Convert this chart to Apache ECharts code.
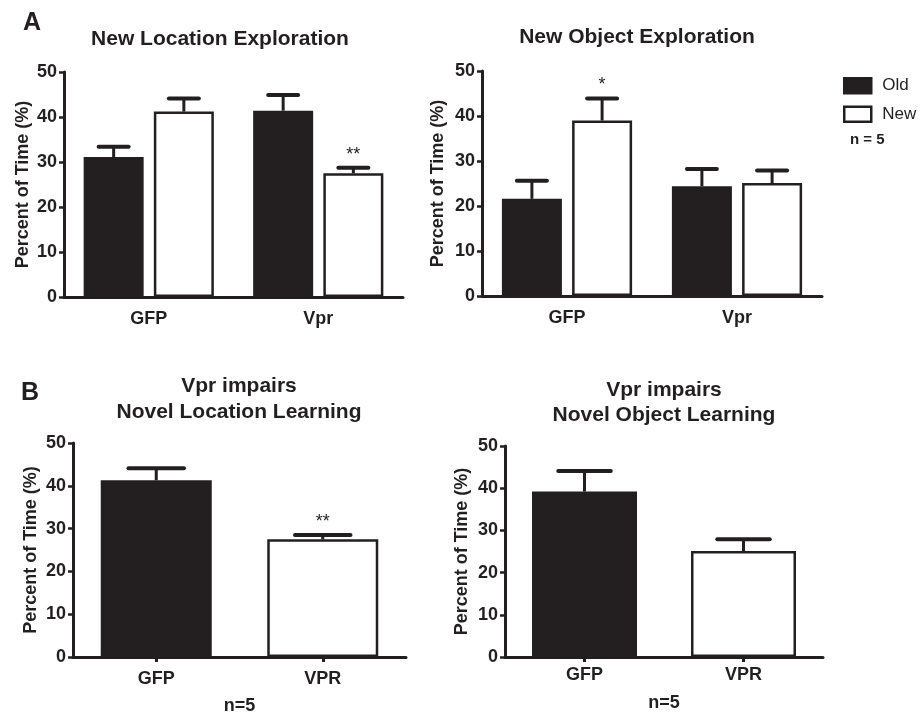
<!DOCTYPE html>
<html>
<head>
<meta charset="utf-8">
<script src="https://cdn.jsdelivr.net/npm/echarts@6/dist/echarts.min.js"></script>
<style>html,body{margin:0;padding:0;background:#fff}#c{width:921px;height:716px}</style>
</head>
<body>
<div id="c"></div>
<script>
// ---- data ----
const categoriesA = ['GFP', 'Vpr'];
const categoriesB = ['GFP', 'VPR'];
const seriesNames = ['Old', 'New'];

// Panel A left: New Location Exploration
const locOld = [31.1, 41.4];
const locOldErr = [2.3, 3.5];
const locNew = [41.2, 27.5];
const locNewErr = [2.9, 1.2];
const locNewSig = ['', '**'];

// Panel A right: New Object Exploration
const objOld = [21.6, 24.4];
const objOldErr = [4.0, 3.8];
const objNew = [39.0, 25.1];
const objNewErr = [4.9, 2.8];
const objNewSig = ['*', ''];

// Panel B left: Vpr impairs Novel Location Learning
const learnLoc = [41.3, 27.5];
const learnLocErr = [2.8, 1.0];
const learnLocSig = ['', '**'];

// Panel B right: Vpr impairs Novel Object Learning
const learnObj = [39.2, 25.1];
const learnObjErr = [4.9, 2.8];
const learnObjSig = ['', ''];

const yMin = 0, yMax = 50, yStep = 10;
const nLabelA = 'n = 5';
const nLabelB = 'n=5';

// ---- styling ----
const dark = '#231f20';
const FONT = '"Liberation Sans", Arial, Helvetica, sans-serif';
const bw = 60, gapFrac = 0.17;       // panel A bars
const bwBL = 111, bwBR = 105;        // panel B bars

const chart = echarts.init(document.getElementById('c'), null, {renderer: 'canvas'});

function errSeries(gridIdx, vals, errs, sigs, offset, barW) {
  return {
    type: 'custom',
    xAxisIndex: gridIdx, yAxisIndex: gridIdx,
    z: 5,
    silent: true,
    data: vals.map((v, i) => [i, v, errs[i]]),
    renderItem: function (params, api) {
      const i = api.value(0), v = api.value(1), e = api.value(2);
      const base = api.coord([i, v]);
      const cap = api.coord([i, v + e]);
      const x = base[0] + offset;
      const hw = barW / 4;
      const children = [
        {type: 'line', shape: {x1: x, y1: base[1], x2: x, y2: cap[1]}, style: {stroke: dark, lineWidth: 3}},
        {type: 'line', shape: {x1: x - hw, y1: cap[1], x2: x + hw, y2: cap[1]}, style: {stroke: dark, lineWidth: 4, lineCap: 'round'}}
      ];
      const s = sigs[params.dataIndex];
      if (s) {
        children.push({type: 'text', x: x, y: cap[1] - 13,
          style: {text: s, fill: dark, fontSize: 18, fontFamily: FONT, align: 'center', verticalAlign: 'middle'}});
      }
      return {type: 'group', children: children};
    }
  };
}

function yAxis(gridIdx, gap) {
  return {
    type: 'value', gridIndex: gridIdx, min: yMin, max: yMax, interval: yStep,
    name: 'Percent of Time (%)', nameLocation: 'middle', nameGap: gap,
    nameTextStyle: {fontSize: 18, fontWeight: 'bold', color: dark, fontFamily: FONT},
    axisLine: {show: true, lineStyle: {color: dark, width: 3}},
    axisTick: {show: true, length: 5, lineStyle: {color: dark, width: 2.5}},
    axisLabel: {fontSize: 18, fontWeight: 'bold', color: dark, fontFamily: FONT, margin: 7},
    splitLine: {show: false}
  };
}

function xAxis(gridIdx, cats, ticks, margin, name, nameGap) {
  return {
    type: 'category', gridIndex: gridIdx, data: cats,
    axisLine: {show: true, lineStyle: {color: dark, width: 3}},
    axisTick: {show: ticks, alignWithLabel: true, length: 5, lineStyle: {color: dark, width: 3}},
    axisLabel: {fontSize: 18, fontWeight: 'bold', color: dark, fontFamily: FONT, margin: margin},
    name: name || '', nameLocation: 'middle', nameGap: nameGap || 0,
    nameTextStyle: {fontSize: 18, fontWeight: 'bold', color: dark, fontFamily: FONT, verticalAlign: 'top'}
  };
}

const oldStyle = {color: dark, borderColor: dark, borderWidth: 2.5};
const newStyle = {color: '#ffffff', borderColor: dark, borderWidth: 2.5};
const off = bw * (1 + gapFrac) / 2;
const bColors = [dark, '#ffffff'];

const titleStyle = {fontSize: 21, fontWeight: 'bold', color: dark, fontFamily: FONT};

const option = {
  animation: false,
  backgroundColor: '#ffffff',
  title: [
    {text: 'A', left: 23, top: 9, padding: 0, textStyle: {fontSize: 25, fontWeight: 'bold', color: dark, fontFamily: FONT, lineHeight: 28}},
    {text: 'New Location Exploration', left: 220, top: 27, padding: 0, textAlign: 'center', textStyle: Object.assign({lineHeight: 24}, titleStyle)},
    {text: 'New Object Exploration', left: 637, top: 25, padding: 0, textAlign: 'center', textStyle: Object.assign({lineHeight: 24}, titleStyle)},
    {text: 'B', left: 21, top: 379, padding: 0, textStyle: {fontSize: 25, fontWeight: 'bold', color: dark, fontFamily: FONT, lineHeight: 28}},
    {text: 'Vpr impairs\nNovel Location Learning', left: 239, top: 373, padding: 0, textAlign: 'center', textStyle: Object.assign({lineHeight: 26, align: 'center'}, titleStyle)},
    {text: 'Vpr impairs\nNovel Object Learning', left: 664, top: 378, padding: 0, textAlign: 'center', textStyle: Object.assign({lineHeight: 25, align: 'center'}, titleStyle)},
    {text: nLabelA, left: 850, top: 131, padding: 0, textStyle: {fontSize: 15, fontWeight: 'bold', color: dark, fontFamily: FONT, lineHeight: 18}}
  ],
  legend: {
    orient: 'vertical', left: 843, top: 77, padding: 0,
    itemWidth: 27, itemHeight: 15, itemGap: 11,
    icon: 'rect',
    textStyle: {fontSize: 17, color: dark, fontFamily: FONT, padding: [0, 0, 0, 6]},
    data: [
      {name: seriesNames[0], itemStyle: oldStyle},
      {name: seriesNames[1], itemStyle: newStyle}
    ]
  },
  grid: [
    {left: 64, top: 72, width: 339, height: 225},
    {left: 482, top: 71, width: 340, height: 225},
    {left: 73, top: 443, width: 333, height: 221},
    {left: 505, top: 446, width: 318, height: 211}
  ],
  xAxis: [
    xAxis(0, categoriesA, false, 13),
    xAxis(1, categoriesA, false, 13),
    xAxis(2, categoriesB, true, 13, nLabelB, 40),
    xAxis(3, categoriesB, true, 9, nLabelB, 37)
  ],
  yAxis: [yAxis(0, 32), yAxis(1, 35), yAxis(2, 33), yAxis(3, 34)],
  series: [
    {name: seriesNames[0], type: 'bar', xAxisIndex: 0, yAxisIndex: 0, data: locOld, barWidth: bw, barGap: (gapFrac * 100) + '%', itemStyle: oldStyle},
    {name: seriesNames[1], type: 'bar', xAxisIndex: 0, yAxisIndex: 0, data: locNew, barWidth: bw, barGap: (gapFrac * 100) + '%', itemStyle: newStyle},
    errSeries(0, locOld, locOldErr, ['', ''], -off, bw),
    errSeries(0, locNew, locNewErr, locNewSig, off, bw),

    {name: seriesNames[0], type: 'bar', xAxisIndex: 1, yAxisIndex: 1, data: objOld, barWidth: bw, barGap: (gapFrac * 100) + '%', itemStyle: oldStyle},
    {name: seriesNames[1], type: 'bar', xAxisIndex: 1, yAxisIndex: 1, data: objNew, barWidth: bw, barGap: (gapFrac * 100) + '%', itemStyle: newStyle},
    errSeries(1, objOld, objOldErr, ['', ''], -off, bw),
    errSeries(1, objNew, objNewErr, objNewSig, off, bw),

    {type: 'bar', xAxisIndex: 2, yAxisIndex: 2, barWidth: bwBL,
      data: learnLoc.map((v, i) => ({value: v, itemStyle: {color: bColors[i], borderColor: dark, borderWidth: 2.5}}))},
    errSeries(2, learnLoc, learnLocErr, learnLocSig, 0, bwBL),

    {type: 'bar', xAxisIndex: 3, yAxisIndex: 3, barWidth: bwBR,
      data: learnObj.map((v, i) => ({value: v, itemStyle: {color: bColors[i], borderColor: dark, borderWidth: 2.5}}))},
    errSeries(3, learnObj, learnObjErr, learnObjSig, 0, bwBR)
  ]
};
chart.setOption(option);
</script>
</body>
</html>
